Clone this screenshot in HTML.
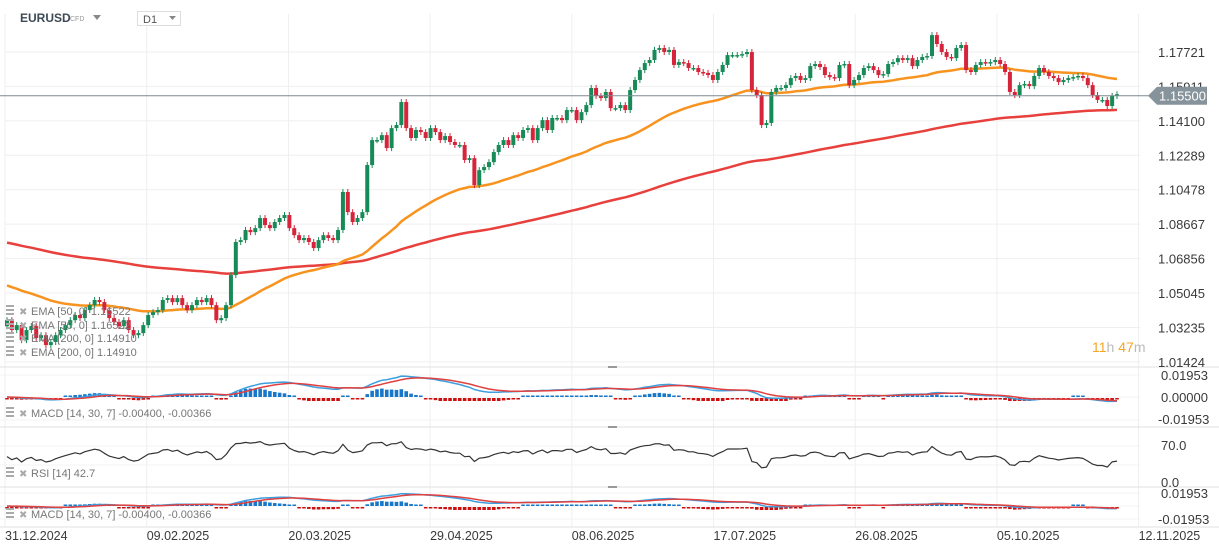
<!DOCTYPE html>
<html><head><meta charset="utf-8"><style>
html,body{margin:0;padding:0;background:#fff;}
svg{display:block;font-family:"Liberation Sans",sans-serif;}
</style></head><body>
<svg id="c" width="1219" height="550" viewBox="0 0 1219 550" xmlns="http://www.w3.org/2000/svg">
<rect width="1219" height="550" fill="#fff"/>
<g id="grid"></g>
<g id="main"></g>
<g id="ind"></g>
<g id="axes"></g>
<g>
<text x="20" y="22" font-size="12" font-weight="bold" fill="#3d4a55">EURUSD</text>
<text x="70" y="21" font-size="7" fill="#999">CFD</text>
<path d="M93 15 L101 15 L97 20 Z" fill="#888"/>
<rect x="137.5" y="11.5" width="43" height="14" fill="#fff" stroke="#ddd"/>
<text x="143" y="23" font-size="11" fill="#555">D1</text>
<path d="M169 16 L176 16 L172.5 20 Z" fill="#888"/>
</g>
</svg>
<script>
const closes=[1.0362,1.0310,1.0336,1.0257,1.0310,1.0331,1.0268,1.0283,1.0231,1.0247,
1.0283,1.0310,1.0336,1.0362,1.0389,1.0373,1.0415,1.0441,1.0468,1.0457,
1.0415,1.0373,1.0352,1.0331,1.0362,1.0310,1.0283,1.0294,1.0336,1.0389,
1.0404,1.0415,1.0468,1.0478,1.0457,1.0478,1.0441,1.0415,1.0441,1.0468,
1.0457,1.0478,1.0441,1.0362,1.0373,1.0441,1.0599,1.0773,1.0783,1.0836,
1.0825,1.0846,1.0899,1.0862,1.0846,1.0878,1.0899,1.0915,1.0846,1.0809,
1.0783,1.0794,1.0773,1.0741,1.0783,1.0809,1.0794,1.0783,1.0836,1.1036,
1.0930,1.0878,1.0899,1.0930,1.1178,1.1309,1.1309,1.1335,1.1267,1.1372,
1.1388,1.1509,1.1372,1.1320,1.1362,1.1351,1.1320,1.1372,1.1351,1.1309,
1.1330,1.1299,1.1283,1.1283,1.1204,1.1214,1.1072,1.1151,1.1167,1.1193,
1.1246,1.1283,1.1309,1.1283,1.1335,1.1320,1.1362,1.1372,1.1309,1.1372,
1.1414,1.1362,1.1425,1.1425,1.1414,1.1467,1.1467,1.1414,1.1456,1.1493,
1.1583,1.1541,1.1530,1.1562,1.1477,1.1477,1.1493,1.1467,1.1572,1.1625,
1.1677,1.1714,1.1730,1.1783,1.1793,1.1772,1.1783,1.1704,1.1719,1.1714,
1.1688,1.1688,1.1667,1.1662,1.1651,1.1625,1.1667,1.1704,1.1756,1.1756,
1.1756,1.1761,1.1772,1.1572,1.1546,1.1388,1.1399,1.1562,1.1583,1.1583,
1.1598,1.1635,1.1646,1.1625,1.1635,1.1698,1.1709,1.1693,1.1651,1.1640,
1.1635,1.1704,1.1709,1.1598,1.1625,1.1651,1.1688,1.1698,1.1677,1.1651,
1.1656,1.1709,1.1719,1.1740,1.1730,1.1740,1.1698,1.1730,1.1746,1.1751,
1.1861,1.1814,1.1772,1.1746,1.1740,1.1793,1.1809,1.1677,1.1667,1.1704,
1.1719,1.1714,1.1719,1.1730,1.1709,1.1667,1.1562,1.1546,1.1598,1.1604,
1.1593,1.1646,1.1688,1.1667,1.1646,1.1635,1.1614,1.1625,1.1635,1.1640,
1.1646,1.1635,1.1598,1.1546,1.1520,1.1520,1.1488,1.1541,1.1550];
const firstOpen=1.0330;
const ema50Start=1.0552;
const ema200Start=1.0775;
const priceTicks=[1.17721,1.15911,1.14100,1.12289,1.10478,1.08667,1.06856,1.05045,1.03235,1.01424];
const dateLabels=["31.12.2024","09.02.2025","20.03.2025","29.04.2025","08.06.2025","17.07.2025","26.08.2025","05.10.2025","12.11.2025"];
const lastPrice=1.15500;
const macdTicks=[0.01953,0,-0.01953];
const rsiTicks=[70,0];

const NS="http://www.w3.org/2000/svg";
function mk(parent,tag,attrs){const e=document.createElementNS(NS,tag);for(const k in attrs)e.setAttribute(k,attrs[k]);parent.appendChild(e);return e;}
const grid=document.getElementById('grid'),main=document.getElementById('main'),ind=document.getElementById('ind'),axes=document.getElementById('axes');
const N=closes.length;
const xOf=i=>7+i*(1110/(N-1));
const yP=p=>52+(1.17721-p)/0.01811*34.44;
const yM1=v=>397-v*(22/0.01953);
const yR=v=>483-v*(37/70);
const yM3=v=>506-v*(13/0.01953);

priceTicks.forEach(t=>{const l=mk(grid,'line',{x1:5,x2:1140,y1:yP(t),y2:yP(t),stroke:'#efefef'});

});
dateLabels.forEach((d,k)=>{const x=5+k*141.7;const l=mk(grid,'line',{x1:x,x2:x,y1:14,y2:527,stroke:'#efefef'});

});
[367,427,487,527].forEach(y=>{const l=mk(grid,'line',{x1:0,x2:1219,y1:y,y2:y,stroke:'#e2e2e2'});

});
[367,427,487].forEach(y=>{const l=mk(grid,'line',{x1:608,x2:617,y1:y,y2:y,stroke:'#999','stroke-width':2});

});
[375,397,420,446,465,493,506,519].forEach(y=>{const l=mk(grid,'line',{x1:0,x2:1140,y1:y,y2:y,stroke:'#f3f3f3'});

});

function ema(arr,n,seed){const a=2/(n+1);let e=seed;return arr.map(v=>{e=e+a*(v-e);return e;});}
const e50=ema(closes,50,ema50Start),e200=ema(closes,165,ema200Start);
function line(g,vals,yf,color,w,name){const d=vals.map((v,i)=>(i?'L':'M')+xOf(i).toFixed(1)+' '+yf(v).toFixed(1)).join(' ');
const p=mk(g,'path',{d:d,fill:'none',stroke:color,'stroke-width':w,'stroke-linejoin':'round'});

return p;}
line(main,e200,yP,'#e8403c',2.5,'ema-200-line');
line(main,e50,yP,'#f7931e',2.5,'ema-50-line');

for(let i=0;i<N;i++){
 const o=i?closes[i-1]:firstOpen,c=closes[i];
 const up=c>=o,col=up?'#168b57':'#d6243a';
 const x=xOf(i),yo=yP(o),yc=yP(c);
 const top=Math.min(yo,yc),bot=Math.max(yo,yc);
 const w=mk(main,'line',{x1:x,x2:x,y1:top-3,y2:bot+3,stroke:col,'stroke-width':1});
 
 
 const r=mk(main,'rect',{x:x-2,y:top,width:4,height:Math.max(1.5,bot-top),fill:col});
 
 
}
const pl=mk(main,'line',{x1:0,x2:1150,y1:yP(lastPrice)+1.5,y2:yP(lastPrice)+1.5,stroke:'#7d8a90','stroke-width':1});



const ef=ema(closes,14,closes[0]),es=ema(closes,30,closes[0]);
const macd=ef.map((v,i)=>v-es[i]);
const sig=ema(macd,7,0);
const hist=macd.map((v,i)=>v-sig[i]);
function macdPanel(yf,sc,tag){
 hist.forEach((h,i)=>{const x=xOf(i);const z=yf(0);
  if(h>0){const hh=Math.max(1.5,(z-yf(h))*sc);const r=mk(ind,'rect',{x:x-1.8,y:z-hh,width:3.6,height:hh,fill:'#1877c9'});
   
   }
  else{const r=mk(ind,'rect',{x:x-1.8,y:z+1,width:3.6,height:Math.min(3,Math.max(1.5,(yf(h)-z)*sc)),fill:'#cc1010'});
   
   }
 });
 line(ind,macd,yf,'#3d9fe0',1.5,'macd-line-'+tag);
 line(ind,sig,yf,'#e0403f',1.5,'macd-signal-line-'+tag);
}
macdPanel(yM1,2.2,'top');
macdPanel(yM3,2.2,'bottom');

let ag=0.0015,al=0.0015;const rsi=[50];
for(let i=1;i<N;i++){const d=closes[i]-closes[i-1];ag=(ag*13+Math.max(d,0))/14;al=(al*13+Math.max(-d,0))/14;rsi.push(100-100/(1+ag/al));}
line(ind,rsi,yR,'#333',1.2,'rsi-line');

function txt(g,x,y,s,opts,name){const t=mk(g,'text',Object.assign({x:x,y:y,'font-size':13,fill:'#3a3a3a'},opts||{}));t.textContent=s;

return t;}
priceTicks.forEach(t=>txt(axes,1158,yP(t)+5,t.toFixed(5),{},'price-tick-label'));
dateLabels.forEach((d,k)=>txt(axes,5+k*141.7,540,d,{'font-size':12.5},'date-tick-label'));
macdTicks.forEach(t=>txt(axes,t<0?1158:1161,yM1(t)+5,t.toFixed(5),{},'macd-tick-label'));
txt(axes,1161,yM3(macdTicks[0])+5,macdTicks[0].toFixed(5),{},'macd2-tick-label');
txt(axes,1158,yM3(macdTicks[2])+5,macdTicks[2].toFixed(5),{},'macd2-tick-label');
rsiTicks.forEach(t=>txt(axes,1161,yR(t)+4,t.toFixed(1),{},'rsi-tick-label'));

const ty=yP(lastPrice)+1.5;
const tag=mk(axes,'path',{d:`M1148 ${ty} L1157 ${ty-9} L1207 ${ty-9} L1207 ${ty+9} L1157 ${ty+9} Z`,fill:'#87939a'});


txt(axes,1159,ty+5,lastPrice.toFixed(5),{fill:'#fff'},'current-price-value');

const cd=mk(axes,'text',{x:1092,y:352,'font-size':14});


cd.innerHTML='<tspan fill="#f5a623">11</tspan><tspan fill="#bbb">h</tspan><tspan fill="#f5a623"> 47</tspan><tspan fill="#bbb">m</tspan>';

function legend(y,s,name){
 const g=mk(axes,'g',{});
 
 
 mk(g,'rect',{x:6,y:y-9,width:8,height:2,fill:'#aaa'});mk(g,'rect',{x:6,y:y-5,width:8,height:2,fill:'#aaa'});mk(g,'rect',{x:6,y:y-1,width:8,height:2,fill:'#aaa'});
 txt(g,19,y+1,'✖',{'font-size':10,fill:'#aaa'},'remove-indicator-icon');
 txt(g,31,y+1,s,{'font-size':11,fill:'#777'},'legend-text');
}
legend(314,'EMA  [50,  0]  1.16522','ema50-legend');
legend(328,'EMA  [50,  0]  1.16522','ema50-legend-duplicate');
legend(341,'EMA  [200,  0]  1.14910','ema200-legend');
legend(355,'EMA  [200,  0]  1.14910','ema200-legend-duplicate');
legend(416,'MACD  [14,  30,  7]  -0.00400,  -0.00366','macd-legend');
legend(476,'RSI  [14]  42.7','rsi-legend');
legend(517,'MACD  [14,  30,  7]  -0.00400,  -0.00366','macd-legend-bottom');
</script>
</body></html>
